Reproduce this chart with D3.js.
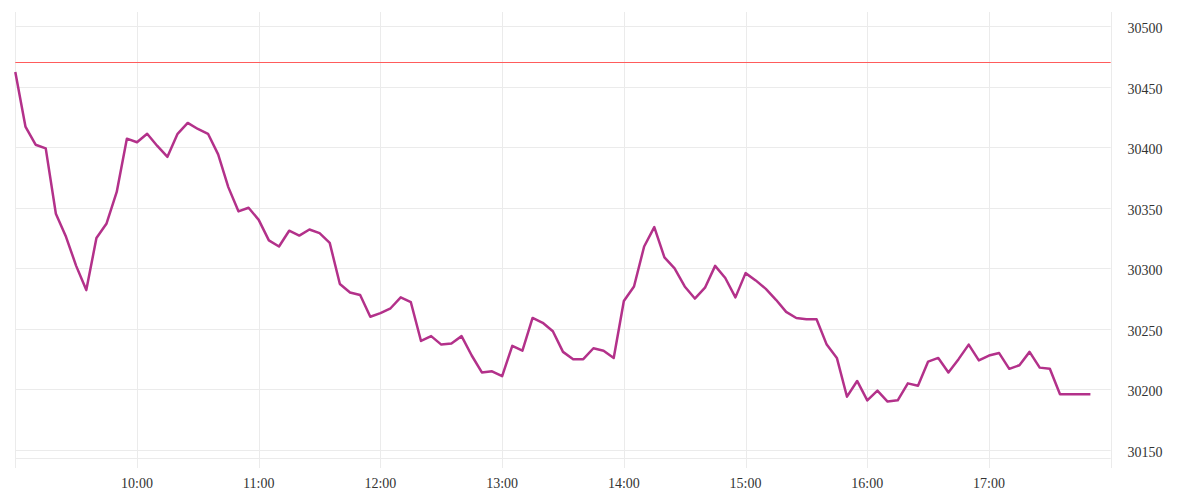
<!DOCTYPE html>
<html>
<head>
<meta charset="utf-8">
<script src="https://cdn.jsdelivr.net/npm/d3@7"></script>
<style>
  html, body { margin: 0; padding: 0; background: #fff; }
  svg { display: block; }
  .lbl { font-family: "Liberation Serif", "Times New Roman", "DejaVu Serif", serif; font-size: 14px; fill: #333; }
</style>
</head>
<body>
<svg id="chart" width="1200" height="500"></svg>
<script>
// ---- data ----
const startTime = "09:00";
const stepMinutes = 5;
const values = [
  30462, 30417, 30402, 30399, 30345, 30326, 30302, 30282, 30325, 30337, 30363, 30407,
  30404, 30411, 30401, 30392, 30411, 30420, 30415, 30411, 30394, 30367, 30347, 30350,
  30340, 30323, 30318, 30331, 30327, 30332, 30329, 30321, 30287, 30280, 30278, 30260,
  30263, 30267, 30276, 30272, 30240, 30244, 30237, 30238, 30244, 30228, 30214, 30215,
  30211, 30236, 30232, 30259, 30255, 30248, 30231, 30225, 30225, 30234, 30232, 30226,
  30273, 30285, 30318, 30334, 30309, 30300, 30285, 30275, 30284, 30302, 30292, 30276,
  30296, 30290, 30283, 30274, 30264, 30259, 30258, 30258, 30237, 30226, 30194, 30207,
  30191, 30199, 30190, 30191, 30205, 30203, 30223, 30226, 30214, 30225, 30237, 30224,
  30228, 30230, 30217, 30220, 30231, 30218, 30217, 30196, 30196, 30196, 30196
];
const referenceValue = 30470;
const yTicks = [30150, 30200, 30250, 30300, 30350, 30400, 30450, 30500];
const xTickLabels = ["10:00", "11:00", "12:00", "13:00", "14:00", "15:00", "16:00", "17:00"];
const xDomain = ["09:00", "18:00"];

// ---- setup ----
(function () {
const parse = d3.timeParse("%H:%M");
const t0 = parse(startTime);
const data = values.map((v, i) => ({ t: d3.timeMinute.offset(t0, i * stepMinutes), v }));

const svg = d3.select("#chart");
const plotLeft = 15.3, plotRight = 1110.7, plotTop = 12, bottomLine = 457.7, tickBottom = 468;

const x = d3.scaleTime().domain(xDomain.map(parse)).range([plotLeft, plotRight]);
const y = d3.scaleLinear().domain([30150, 30500]).range([450, 26]);

const gridColor = "#ebebeb";

svg.append("g").selectAll("line").data(yTicks).join("line")
  .attr("x1", plotLeft).attr("x2", plotRight)
  .attr("y1", d => Math.round(y(d)) + 0.5).attr("y2", d => Math.round(y(d)) + 0.5)
  .attr("stroke", gridColor).attr("stroke-width", 1);

svg.append("line")
  .attr("x1", plotLeft).attr("x2", plotRight)
  .attr("y1", Math.round(bottomLine) + 0.5).attr("y2", Math.round(bottomLine) + 0.5)
  .attr("stroke", gridColor);

const vTimes = [xDomain[0], ...xTickLabels, xDomain[1]].map(parse);
svg.append("g").selectAll("line").data(vTimes).join("line")
  .attr("x1", d => Math.round(x(d)) + 0.5).attr("x2", d => Math.round(x(d)) + 0.5)
  .attr("y1", plotTop).attr("y2", tickBottom)
  .attr("stroke", gridColor).attr("stroke-width", 1);

svg.append("line")
  .attr("x1", plotLeft).attr("x2", plotRight)
  .attr("y1", Math.round(y(referenceValue)) + 0.5).attr("y2", Math.round(y(referenceValue)) + 0.5)
  .attr("stroke", "#ff5c5c").attr("stroke-width", 1);

const line = d3.line().x(d => x(d.t)).y(d => y(d.v));
svg.append("path").datum(data)
  .attr("d", line)
  .attr("fill", "none")
  .attr("stroke", "#b3318a")
  .attr("stroke-width", 2.5)
  .attr("stroke-linejoin", "round");

svg.append("g").selectAll("text").data(yTicks).join("text")
  .attr("class", "lbl")
  .attr("x", 1127.5)
  .attr("y", d => y(d) + 7)
  .text(d => d);

svg.append("g").selectAll("text").data(xTickLabels).join("text")
  .attr("class", "lbl")
  .attr("x", d => x(parse(d)))
  .attr("y", 488)
  .attr("text-anchor", "middle")
  .text(d => d);
})();
</script>
</body>
</html>
